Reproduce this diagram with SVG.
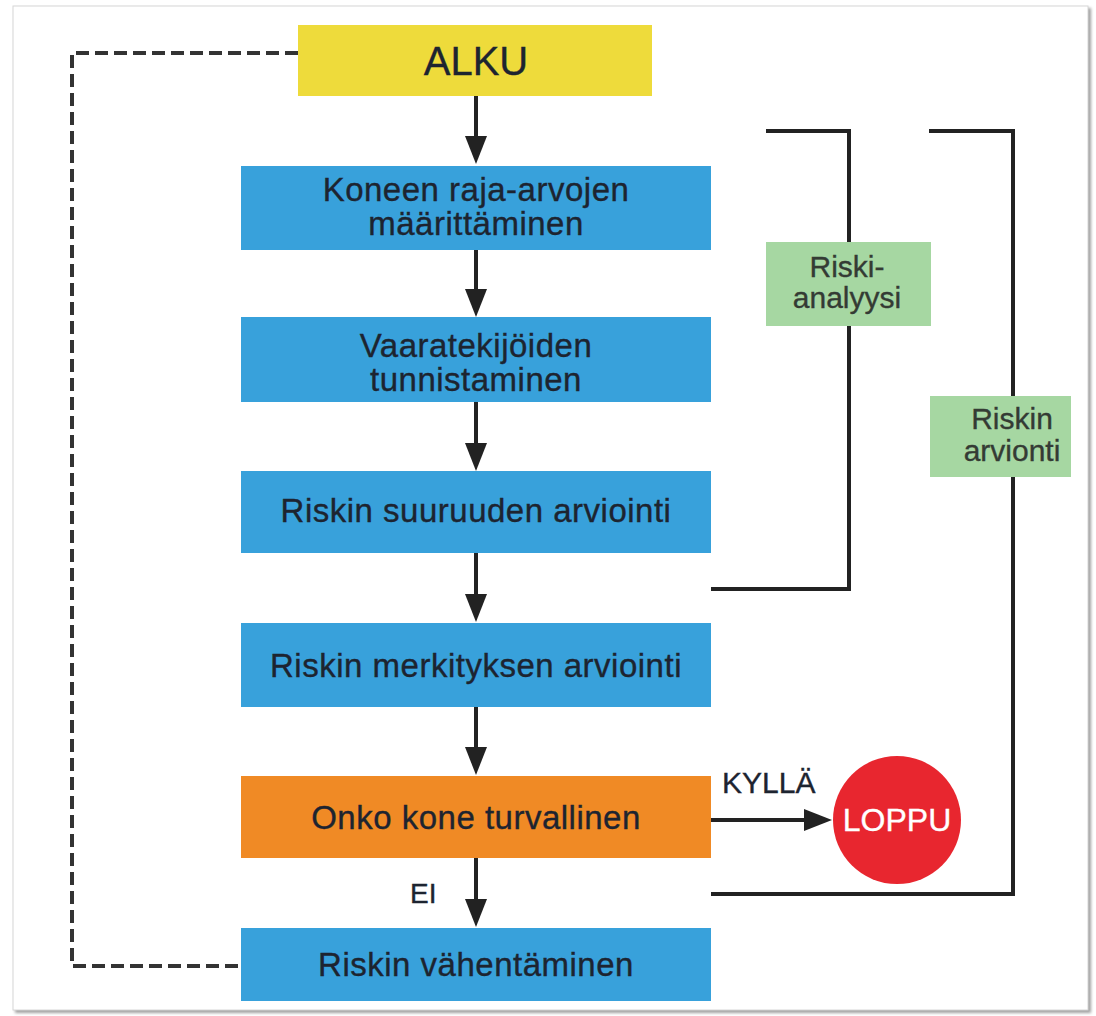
<svg xmlns="http://www.w3.org/2000/svg" width="1096" height="1016" viewBox="0 0 1096 1016">
<style>
.t{font-family:"Liberation Sans",Arial,Helvetica,sans-serif;fill:#1d2430;text-anchor:middle;stroke:#1d2430;stroke-width:0.35}
.box{font-size:33px;letter-spacing:0.5px}
.g{font-size:30px;fill:#343b34;stroke:#343b34}
.ln{stroke:#222;stroke-width:4;fill:none}
.ar{stroke:#222;stroke-width:4;fill:none;marker-end:url(#ah)}
.dash{stroke:#333;stroke-width:4;fill:none;stroke-dasharray:13 6}
.blue{fill:#38a1db}
.green{fill:#a6d7a2}
</style>
<defs>
<marker id="ah" markerUnits="userSpaceOnUse" markerWidth="28" markerHeight="22" refX="8" refY="11" orient="auto">
<path d="M0,0 L28,11 L0,22 z" fill="#222"/>
</marker>
<filter id="sh" x="-5%" y="-5%" width="110%" height="110%">
<feGaussianBlur stdDeviation="1.5"/>
</filter>
</defs>
<rect width="1096" height="1016" fill="#ffffff"/>
<g id="page">
<rect x="15" y="8" width="1076" height="1005" fill="#a0a0a0" filter="url(#sh)"/>
<rect x="13" y="6" width="1075" height="1004" fill="#ffffff" stroke="#d6d6d6" stroke-width="1"/>
</g>
<g id="connectors">
<path class="dash" d="M298,53 H72 V966 H241"/>
<path class="ar" d="M476,96 V144"/>
<path class="ar" d="M476,250 V297"/>
<path class="ar" d="M476,402 V451"/>
<path class="ar" d="M476,553 V602"/>
<path class="ar" d="M476,707 V755"/>
<path class="ar" d="M476,858 V907"/>
<path class="ar" d="M711,820 H812"/>
<path class="ln" d="M766,131 H849 V589 H711"/>
<path class="ln" d="M929,131 H1013 V894 H711"/>
<text class="t" x="722" y="793" font-size="30" style="text-anchor:start">KYLLÄ</text>
<text class="t" x="410" y="903" font-size="28" style="text-anchor:start">EI</text>
</g>
<g id="alku">
<rect x="298" y="25" width="354" height="71" fill="#eedb3b"/>
<text class="t" x="476" y="75" font-size="40">ALKU</text>
</g>
<g id="raja-arvot">
<rect class="blue" x="241" y="166" width="470" height="84"/>
<text class="t box" x="476" y="201">Koneen raja-arvojen</text>
<text class="t box" x="476" y="235">määrittäminen</text>
</g>
<g id="vaaratekijat">
<rect class="blue" x="241" y="317" width="470" height="85"/>
<text class="t box" x="476" y="357">Vaaratekijöiden</text>
<text class="t box" x="476" y="391">tunnistaminen</text>
</g>
<g id="suuruus">
<rect class="blue" x="241" y="471" width="470" height="82"/>
<text class="t box" x="476" y="522">Riskin suuruuden arviointi</text>
</g>
<g id="merkitys">
<rect class="blue" x="241" y="623" width="470" height="84"/>
<text class="t box" x="476" y="677">Riskin merkityksen arviointi</text>
</g>
<g id="turvallinen">
<rect x="241" y="776" width="470" height="82" fill="#f08a25"/>
<text class="t box" x="476" y="829">Onko kone turvallinen</text>
</g>
<g id="vahentaminen">
<rect class="blue" x="241" y="928" width="470" height="73"/>
<text class="t box" x="476" y="976">Riskin vähentäminen</text>
</g>
<g id="loppu">
<circle cx="897" cy="820" r="64" fill="#e8262f"/>
<text class="t" x="897" y="831" font-size="32" style="fill:#ffffff;stroke:#ffffff">LOPPU</text>
</g>
<g id="riskianalyysi">
<rect class="green" x="766" y="242" width="165" height="84"/>
<text class="t g" x="847" y="277">Riski-</text>
<text class="t g" x="847" y="308">analyysi</text>
</g>
<g id="riskinarviointi">
<rect class="green" x="930" y="396" width="141" height="81"/>
<text class="t g" x="1012" y="429">Riskin</text>
<text class="t g" x="1012" y="461">arvionti</text>
</g>
</svg>
